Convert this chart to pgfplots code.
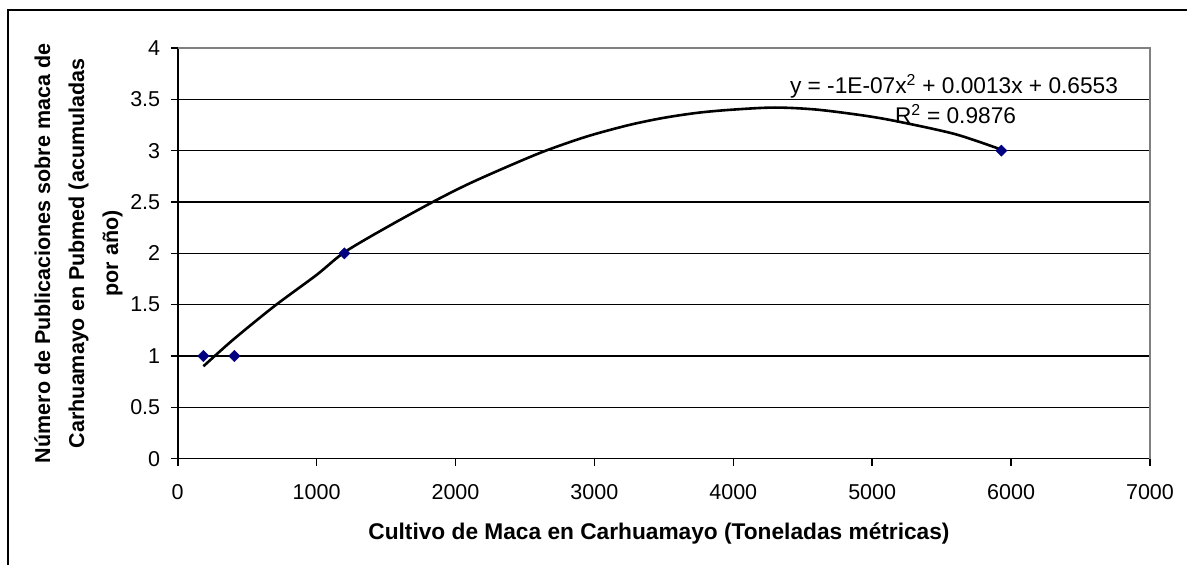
\documentclass[border=0pt]{standalone}
\usepackage{fontspec}
\setmainfont{Liberation Sans}
\usepackage{pgfplots}
\pgfplotsset{compat=1.18}
\definecolor{navymark}{HTML}{000080}
\definecolor{frame}{HTML}{808080}
\begin{document}
\begin{tikzpicture}[x=1pt,y=1pt]
\path[use as bounding box] (0,0) rectangle (1187,565);
\draw[black, line width=1.5pt] (8,0) -- (8,555) -- (1190,555);
\begin{axis}[
  at={(177.7pt,106.3pt)}, anchor=south west,
  scale only axis, width=972.3pt, height=410.7pt,
  xmin=0, xmax=7000, ymin=0, ymax=4,
  xtick={0,1000,...,7000}, ytick={0,0.5,...,4},
  axis x line*=bottom, axis y line*=left,
  axis line style={black, line width=1.6pt, -},
  tick align=outside, major tick length=7pt,
  tick style={black, line width=1.6pt},
  ymajorgrids, grid style={black, line width=1.2pt},
  /pgf/number format/.cd, 1000 sep={}, assume math mode=true,
  /pgfplots/.cd,
  tick label style={font=\fontsize{21.5}{21.5}\selectfont},
  xticklabel style={yshift=-15pt},
  yticklabel style={xshift=-7pt},
  xlabel={Cultivo de Maca en Carhuamayo (Toneladas métricas)},
  xlabel style={font=\fontsize{22.7}{22.7}\selectfont\bfseries, at={(axis description cs:0.495,0)}, anchor=center, yshift=-75pt},
  ylabel={Número de Publicaciones sobre maca de\\Carhuamayo en Pubmed (acumuladas\\por año)},
  ylabel style={font=\fontsize{21.5}{34}\selectfont\bfseries, align=center, at={(axis description cs:-0.102,0.5)}, anchor=center},
  clip=false,
]
\draw[frame, line width=1.6pt] (axis cs:0,4) -- (axis cs:7000,4) -- (axis cs:7000,0);
\addplot[black, line width=2.6pt, smooth, mark=none] coordinates {
  (185,0.90) (400,1.16) (700,1.49) (1000,1.79) (1200,2.01) (1500,2.25)
  (1850,2.51) (2100,2.68) (2400,2.86) (2650,3.00) (2950,3.14) (3250,3.25)
  (3500,3.32) (3750,3.37) (4000,3.40) (4300,3.42) (4600,3.40) (4950,3.34)
  (5200,3.28) (5600,3.16) (5930,3.01)
};
\addplot[only marks, mark=square*, mark size=4pt, mark options={rotate=45, fill=navymark, draw=navymark}] coordinates {
  (185,1) (408,1) (1200,2) (5930,3)
};
\node[anchor=base, font=\fontsize{22.7}{22.7}\selectfont] at (axis cs:5589,3.56) {y = -1E-07x\textsuperscript{2} + 0.0013x + 0.6553};
\node[anchor=base, font=\fontsize{22.7}{22.7}\selectfont] at (axis cs:5600,3.265) {R\textsuperscript{2} = 0.9876};
\end{axis}
\end{tikzpicture}
\end{document}
